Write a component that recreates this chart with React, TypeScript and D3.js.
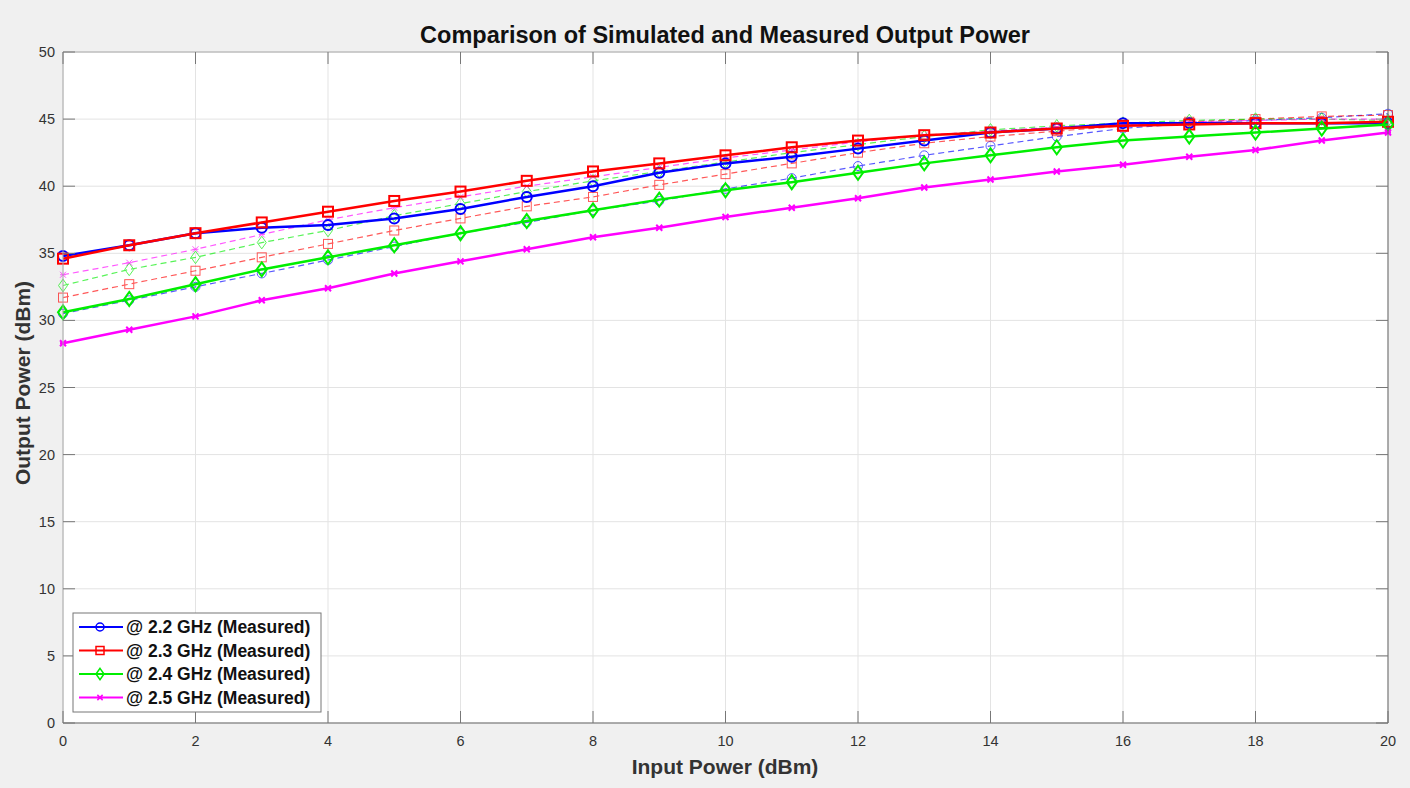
import * as d3 from "d3";
import { useEffect, useRef } from "react";

const inputPower = d3.range(0, 21);

const meas22 = [34.8, 35.6, 36.5, 36.9, 37.1, 37.6, 38.3, 39.2, 40.0, 41.0, 41.7, 42.2, 42.8, 43.4, 44.0, 44.3, 44.7, 44.7, 44.7, 44.7, 44.7];
const meas23 = [34.6, 35.6, 36.5, 37.3, 38.1, 38.9, 39.6, 40.4, 41.1, 41.7, 42.3, 42.9, 43.4, 43.8, 44.0, 44.3, 44.5, 44.6, 44.7, 44.7, 44.8];
const meas24 = [30.6, 31.6, 32.7, 33.8, 34.7, 35.6, 36.5, 37.4, 38.2, 39.0, 39.7, 40.3, 41.0, 41.7, 42.3, 42.9, 43.4, 43.7, 44.0, 44.3, 44.6];
const meas25 = [28.3, 29.3, 30.3, 31.5, 32.4, 33.5, 34.4, 35.3, 36.2, 36.9, 37.7, 38.4, 39.1, 39.9, 40.5, 41.1, 41.6, 42.2, 42.7, 43.4, 44.0];

const sim22 = [30.5, 31.5, 32.5, 33.5, 34.5, 35.5, 36.5, 37.3, 38.2, 38.9, 39.8, 40.6, 41.5, 42.3, 43.0, 43.7, 44.3, 44.7, 44.9, 45.1, 45.4];
const sim23 = [31.7, 32.7, 33.7, 34.7, 35.7, 36.7, 37.6, 38.5, 39.2, 40.1, 40.9, 41.7, 42.5, 43.2, 43.7, 44.1, 44.5, 44.8, 45.0, 45.2, 45.3];
const sim24 = [32.6, 33.8, 34.7, 35.8, 36.7, 37.8, 38.7, 39.6, 40.4, 41.1, 41.8, 42.5, 43.1, 43.7, 44.2, 44.5, 44.7, 44.9, 45.0, 45.0, 44.9];
const sim25 = [33.4, 34.3, 35.3, 36.4, 37.5, 38.4, 39.2, 40.0, 40.7, 41.4, 42.1, 42.7, 43.3, 43.8, 44.1, 44.4, 44.6, 44.8, 44.9, 45.0, 45.0];

const legendLabels = ["@ 2.2 GHz (Measured)", "@ 2.3 GHz (Measured)", "@ 2.4 GHz (Measured)", "@ 2.5 GHz (Measured)"];
const colors = ["#0000ff", "#ff0000", "#00ee00", "#ff00ff"];
const markers = ["circle", "square", "diamond", "x"];

const xTicks = d3.range(0, 21, 2);
const yTicks = d3.range(0, 51, 5);

const W = 1410, H = 788;
const margin = { top: 52, right: 22, bottom: 65, left: 63 };

const App = () => {
    const ref = useRef<SVGSVGElement | null>(null);

    useEffect(() => {
        if (!ref.current) return;
        const svg = d3.select(ref.current);
        svg.selectAll("*").remove();

        const width = W - margin.left - margin.right;
        const height = H - margin.top - margin.bottom;

        svg.append("rect").attr("width", W).attr("height", H).attr("fill", "#f0f0f0");

        const g = svg.append("g").attr("transform", `translate(${margin.left},${margin.top})`);
        g.append("rect").attr("width", width).attr("height", height).attr("fill", "#fff");

        const x = d3.scaleLinear().domain([0, 20]).range([0, width]);
        const y = d3.scaleLinear().domain([0, 50]).range([height, 0]);

        // grid
        g.append("g").selectAll("line").data(xTicks).join("line")
            .attr("x1", d => x(d)).attr("x2", d => x(d)).attr("y1", 0).attr("y2", height)
            .attr("stroke", "#e3e3e3").attr("stroke-width", 1);
        g.append("g").selectAll("line").data(yTicks).join("line")
            .attr("y1", d => y(d)).attr("y2", d => y(d)).attr("x1", 0).attr("x2", width)
            .attr("stroke", "#e3e3e3").attr("stroke-width", 1);

        const drawMarker = (sel: any, type: string, color: string, sw: number, s: number) => {
            if (type === "circle") {
                sel.append("circle").attr("r", s).attr("fill", "none").attr("stroke", color).attr("stroke-width", sw);
            } else if (type === "square") {
                sel.append("rect").attr("x", -s).attr("y", -s).attr("width", 2 * s).attr("height", 2 * s)
                    .attr("fill", "none").attr("stroke", color).attr("stroke-width", sw);
            } else if (type === "diamond") {
                sel.append("path").attr("d", `M0,${-s * 1.4}L${s},0L0,${s * 1.4}L${-s},0Z`)
                    .attr("fill", "none").attr("stroke", color).attr("stroke-width", sw);
            } else {
                const k = s * 0.75;
                sel.append("path").attr("d", `M${-k},${-k}L${k},${k}M${-k},${k}L${k},${-k}M${-k},0L${k},0`)
                    .attr("fill", "none").attr("stroke", color).attr("stroke-width", sw);
            }
        };

        const line = d3.line<number>().x((_, i) => x(inputPower[i])).y(d => y(d));

        const simSeries = [sim22, sim23, sim24, sim25];
        const measSeries = [meas22, meas23, meas24, meas25];

        // simulated (dashed, light)
        simSeries.forEach((s, k) => {
            const sg = g.append("g").attr("opacity", 0.65);
            sg.append("path").datum(s).attr("d", line).attr("fill", "none")
                .attr("stroke", colors[k]).attr("stroke-width", 1.2).attr("stroke-dasharray", "6,4");
            s.forEach((v, i) => {
                const m = sg.append("g").attr("transform", `translate(${x(inputPower[i])},${y(v)})`);
                drawMarker(m, markers[k], colors[k], 1, markers[k] === "x" ? 4 : 4.5);
            });
        });

        // measured (solid)
        measSeries.forEach((s, k) => {
            const sg = g.append("g");
            sg.append("path").datum(s).attr("d", line).attr("fill", "none")
                .attr("stroke", colors[k]).attr("stroke-width", 2.5);
            s.forEach((v, i) => {
                const m = sg.append("g").attr("transform", `translate(${x(inputPower[i])},${y(v)})`);
                drawMarker(m, markers[k], colors[k], 2, markers[k] === "x" ? 4 : 5);
            });
        });

        // axes box
        g.append("line").attr("x1", 0).attr("x2", width).attr("y1", 0).attr("y2", 0).attr("stroke", "#aaa");
        g.append("line").attr("x1", 0).attr("x2", 0).attr("y1", 0).attr("y2", height).attr("stroke", "#aaa");
        g.append("line").attr("x1", 0).attr("x2", width).attr("y1", height).attr("y2", height).attr("stroke", "#666");
        g.append("line").attr("x1", width).attr("x2", width).attr("y1", 0).attr("y2", height).attr("stroke", "#666");

        // ticks (inward)
        const tl = 12;
        xTicks.forEach(t => {
            g.append("line").attr("x1", x(t)).attr("x2", x(t)).attr("y1", height).attr("y2", height - tl).attr("stroke", "#777");
            g.append("line").attr("x1", x(t)).attr("x2", x(t)).attr("y1", 0).attr("y2", tl).attr("stroke", "#777");
        });
        yTicks.forEach(t => {
            g.append("line").attr("y1", y(t)).attr("y2", y(t)).attr("x1", 0).attr("x2", tl).attr("stroke", "#777");
            g.append("line").attr("y1", y(t)).attr("y2", y(t)).attr("x1", width).attr("x2", width - tl).attr("stroke", "#777");
        });

        const font = "Arial, 'Liberation Sans', Helvetica, sans-serif";
        g.append("g").selectAll("text").data(xTicks).join("text")
            .attr("x", d => x(d)).attr("y", height + 23).attr("text-anchor", "middle")
            .style("font-family", font).style("font-size", "14.5px").attr("fill", "#333")
            .text(d => d);
        g.append("g").selectAll("text").data(yTicks).join("text")
            .attr("x", -8).attr("y", d => y(d) + 5).attr("text-anchor", "end")
            .style("font-family", font).style("font-size", "14.5px").attr("fill", "#333")
            .text(d => d);

        svg.append("text").attr("x", 725).attr("y", 43).attr("text-anchor", "middle")
            .style("font-family", font).style("font-size", "23.5px").style("font-weight", "bold").attr("fill", "#111")
            .text("Comparison of Simulated and Measured Output Power");
        svg.append("text").attr("x", 725).attr("y", 774).attr("text-anchor", "middle")
            .style("font-family", font).style("font-size", "21px").style("font-weight", "bold").attr("fill", "#333")
            .text("Input Power (dBm)");
        svg.append("text").attr("transform", `translate(30,383) rotate(-90)`).attr("text-anchor", "middle")
            .style("font-family", font).style("font-size", "21px").style("font-weight", "bold").attr("fill", "#333")
            .text("Output Power (dBm)");

        // legend
        const lg = svg.append("g").attr("transform", "translate(73,613)");
        lg.append("rect").attr("width", 248).attr("height", 99).attr("fill", "#fff").attr("stroke", "#777");
        legendLabels.forEach((lab, k) => {
            const yy = 14 + k * 23.5;
            lg.append("line").attr("x1", 6).attr("x2", 50).attr("y1", yy).attr("y2", yy)
                .attr("stroke", colors[k]).attr("stroke-width", 2);
            const m = lg.append("g").attr("transform", `translate(27,${yy})`);
            drawMarker(m, markers[k], colors[k], 1.5, markers[k] === "x" ? 3.5 : 4);
            lg.append("text").attr("x", 53).attr("y", yy + 6)
                .style("font-family", font).style("font-size", "17.5px").style("font-weight", "bold").attr("fill", "#111")
                .text(lab);
        });
    }, []);

    return <svg width={W} height={H} ref={ref} style={{ position: "absolute", left: 0, top: 0 }} />;
};

export default App;
